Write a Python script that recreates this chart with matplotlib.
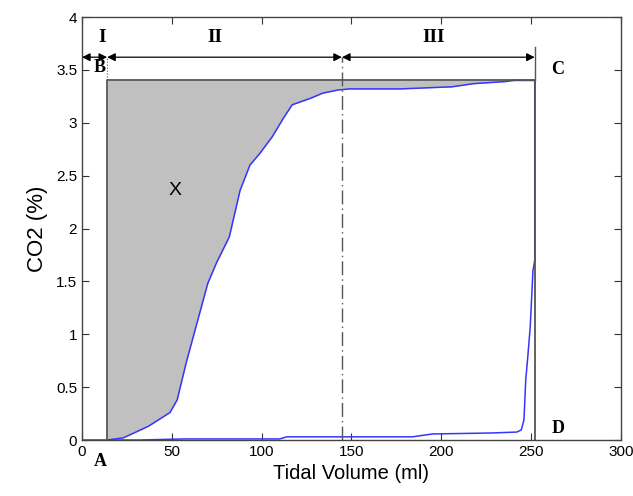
import matplotlib
matplotlib.use("Agg")
import matplotlib.pyplot as plt

# inspiration limb (blue)
insp_x = [0, 14, 23, 37, 49, 53, 58, 66, 70, 75, 82, 88, 93.5, 99, 106, 112, 117, 127, 134, 142.5, 149, 177, 206, 218, 236, 240]
insp_y = [0, 0, 0.02, 0.13, 0.26, 0.38, 0.73, 1.23, 1.48, 1.68, 1.92, 2.36, 2.60, 2.71, 2.87, 3.04, 3.17, 3.23, 3.28, 3.31, 3.32, 3.32, 3.34, 3.37, 3.39, 3.40]
# expiration limb
exp_x = [240, 252, 252, 251, 249.5, 248, 247, 246, 244.5, 242, 227, 195, 184, 114, 110, 57, 32, 14]
exp_y = [3.40, 3.40, 1.70, 1.60, 1.07, 0.76, 0.57, 0.19, 0.095, 0.075, 0.066, 0.057, 0.03, 0.03, 0.01, 0.01, 0, 0]

# ideal box A-B-C-D
box_x = [14, 14, 252, 252]
box_y = [0, 3.4, 3.4, 0]
box_labels = ["A", "B", "C", "D"]
box_label_x = [10, 10, 265, 265]
box_label_y = [-0.2, 3.52, 3.50, 0.11]

phase_bounds = [0, 14, 144.7, 252]
phase_labels = ["I", "II", "III"]
phase_label_x = [11, 74, 196]

fig = plt.figure(figsize=(6.33, 4.96), dpi=100)
ax = fig.add_axes([0.1295, 0.1129, 0.8515, 0.8528])

grey = "#555555"
ax.fill_between(insp_x[1:], insp_y[1:], box_y[1], color="#c0c0c0", lw=0)
ax.plot(insp_x, insp_y, color="#3535ff", lw=1.1)
ax.plot(exp_x, exp_y, color="#3535ff", lw=1.1)
ax.plot(box_x, box_y, color=grey, lw=1.3)

arrow_y = 3.62
ax.plot([phase_bounds[2]] * 2, [0, arrow_y], color=grey, lw=1, dashes=(10, 3, 1, 3))
ax.plot([phase_bounds[1]] * 2, [3.4, arrow_y], color=grey, lw=0.8, ls=":")
ax.plot([phase_bounds[3]] * 2, [3.4, 3.72], color=grey, lw=1)
for i in range(3):
    ax.annotate("", xy=(phase_bounds[i], arrow_y), xytext=(phase_bounds[i + 1], arrow_y),
                arrowprops=dict(arrowstyle="<|-|>", color="black", lw=0.9,
                                mutation_scale=12, shrinkA=0, shrinkB=0))
    ax.text(phase_label_x[i], 3.81, phase_labels[i], ha="center", va="center",
            family="Liberation Serif", fontweight="bold", fontsize=14)

for lab, lx, ly in zip(box_labels, box_label_x, box_label_y):
    ax.text(lx, ly, lab, ha="center", va="center", family="Liberation Serif",
            fontweight="bold", fontsize=13, clip_on=False)
ax.text(51.7, 2.36, "X", ha="center", va="center", family="Liberation Sans", fontsize=14)

ax.set_xlim(0, 300)
ax.set_ylim(0, 4)
ax.set_xticks([0, 50, 100, 150, 200, 250, 300])
ax.set_yticks([0, 0.5, 1, 1.5, 2, 2.5, 3, 3.5, 4])
ax.set_yticklabels(["0", "0.5", "1", "1.5", "2", "2.5", "3", "3.5", "4"])
ax.tick_params(direction="in", top=True, right=True, length=5, width=0.8,
               labelsize=11, colors="#333333", labelcolor="black")
for lab in ax.get_xticklabels() + ax.get_yticklabels():
    lab.set_family("Liberation Sans")
for s in ax.spines.values():
    s.set_color("#444444")
    s.set_linewidth(1)
ax.set_xlabel("Tidal Volume (ml)", family="Liberation Sans", fontsize=14.5, labelpad=4)
ax.set_ylabel("CO2 (%)", family="Liberation Sans", fontsize=16, labelpad=6)

fig.savefig("out.png", dpi=100)
